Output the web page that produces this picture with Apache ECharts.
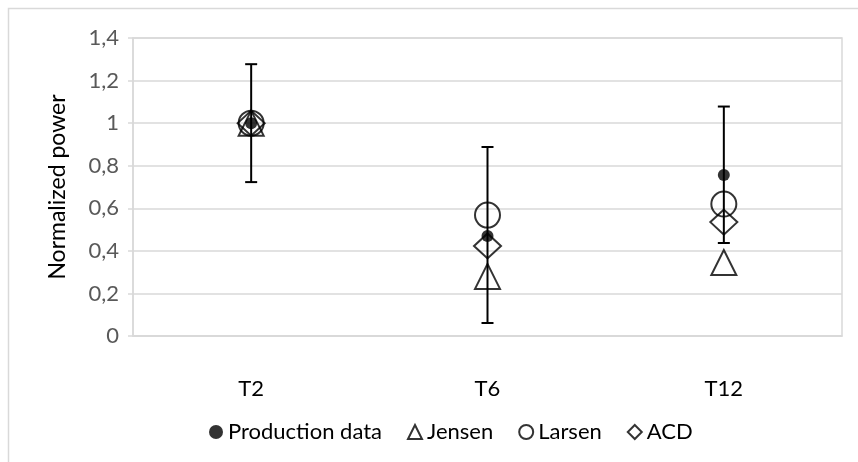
<!DOCTYPE html>
<html>
<head>
<meta charset="utf-8">
<title>Normalized power</title>
<script src="https://cdn.jsdelivr.net/npm/echarts@6/dist/echarts.min.js"></script>
<style>
  html, body { margin: 0; padding: 0; background: #ffffff; }
  #chart { width: 858px; height: 462px; }
</style>
</head>
<body>
<div id="chart"></div>
<script>
// Turbine rows and normalized power per model
const categories = ['T2', 'T6', 'T12'];
const productionData = [1.0, 0.47, 0.756];
const productionLow = [0.723, 0.061, 0.437];
const productionHigh = [1.277, 0.888, 1.078];
const jensenData = [1.0, 0.28, 0.345];
const larsenData = [1.0, 0.568, 0.62];
const acdData = [1.0, 0.423, 0.535];
const yTickLabels = ['0', '0,2', '0,4', '0,6', '0,8', '1', '1,2', '1,4'];

const FONT = 'Lato';
const GRID_COLOR = '#d9d9d9';

const chart = echarts.init(document.getElementById('chart'), null, { renderer: 'canvas' });

const hollow = { color: 'rgba(0,0,0,0)', borderColor: '#000', borderWidth: 2 };

chart.setOption({
  animation: false,
  backgroundColor: '#ffffff',
  textStyle: { fontFamily: FONT },
  graphic: [{
    type: 'rect',
    shape: { x: 8.5, y: 8.5, width: 900, height: 500 },
    style: { fill: 'none', stroke: GRID_COLOR, lineWidth: 1.5 },
    silent: true,
    z: -10
  }],
  grid: {
    left: 133, right: 16, top: 38, bottom: 126,
    show: true, borderColor: GRID_COLOR, borderWidth: 1.5, backgroundColor: 'transparent'
  },
  legend: {
    left: 204,
    top: 416,
    itemGap: 25,
    itemWidth: 14,
    itemHeight: 14,
    textStyle: { fontFamily: FONT, fontSize: 22, color: '#000' },
    data: [
      { name: 'Production data', icon: 'circle', itemStyle: { color: '#000', borderWidth: 0 } },
      { name: 'Jensen', icon: 'triangle', itemStyle: { color: '#fff', borderColor: '#000', borderWidth: 2 } },
      { name: 'Larsen', icon: 'circle', itemStyle: { color: '#fff', borderColor: '#000', borderWidth: 2 } },
      { name: 'ACD', icon: 'diamond', itemStyle: { color: '#fff', borderColor: '#000', borderWidth: 2 } }
    ]
  },
  xAxis: {
    type: 'category',
    data: categories,
    boundaryGap: true,
    axisLine: { lineStyle: { color: GRID_COLOR, width: 1.5 } },
    axisTick: { show: false },
    axisLabel: { margin: 42, fontSize: 22, color: '#000', fontFamily: FONT },
    splitLine: { show: false }
  },
  yAxis: {
    type: 'value',
    min: 0,
    max: 1.4,
    interval: 0.2,
    name: 'Normalized power',
    nameLocation: 'middle',
    nameGap: 64,
    nameTextStyle: { fontSize: 23, color: '#000', fontFamily: FONT },
    axisLine: { show: true, lineStyle: { color: GRID_COLOR, width: 1.5 } },
    axisTick: { show: true, length: 5, lineStyle: { color: GRID_COLOR, width: 1.5 } },
    axisLabel: {
      margin: 14,
      fontSize: 22,
      color: '#595959',
      fontFamily: FONT,
      formatter: function (v) { return yTickLabels[Math.round(v / 0.2)]; }
    },
    splitLine: { lineStyle: { color: GRID_COLOR, width: 1.5 } }
  },
  series: [
    {
      name: 'Production error',
      type: 'custom',
      z: 2,
      data: categories.map(function (c, i) { return [i, productionLow[i], productionHigh[i]]; }),
      encode: { x: 0, y: [1, 2] },
      renderItem: function (params, api) {
        const lo = api.coord([api.value(0), api.value(1)]);
        const hi = api.coord([api.value(0), api.value(2)]);
        const cap = 6;
        const style = { stroke: '#000', lineWidth: 2 };
        return {
          type: 'group',
          children: [
            { type: 'line', shape: { x1: lo[0], y1: lo[1], x2: hi[0], y2: hi[1] }, style: style },
            { type: 'line', shape: { x1: hi[0] - cap, y1: hi[1], x2: hi[0] + cap, y2: hi[1] }, style: style },
            { type: 'line', shape: { x1: lo[0] - cap, y1: lo[1], x2: lo[0] + cap, y2: lo[1] }, style: style }
          ]
        };
      }
    },
    {
      name: 'Production data',
      type: 'scatter',
      z: 3,
      data: productionData,
      symbol: 'circle',
      symbolSize: 12,
      itemStyle: { color: '#000' }
    },
    {
      name: 'Jensen',
      type: 'scatter',
      z: 4,
      data: jensenData,
      symbol: 'triangle',
      symbolSize: 25,
      itemStyle: hollow
    },
    {
      name: 'Larsen',
      type: 'scatter',
      z: 5,
      data: larsenData,
      symbol: 'circle',
      symbolSize: 25,
      itemStyle: hollow
    },
    {
      name: 'ACD',
      type: 'scatter',
      z: 6,
      data: acdData,
      symbol: 'diamond',
      symbolSize: [27, 25],
      itemStyle: hollow
    }
  ]
});
</script>
</body>
</html>
